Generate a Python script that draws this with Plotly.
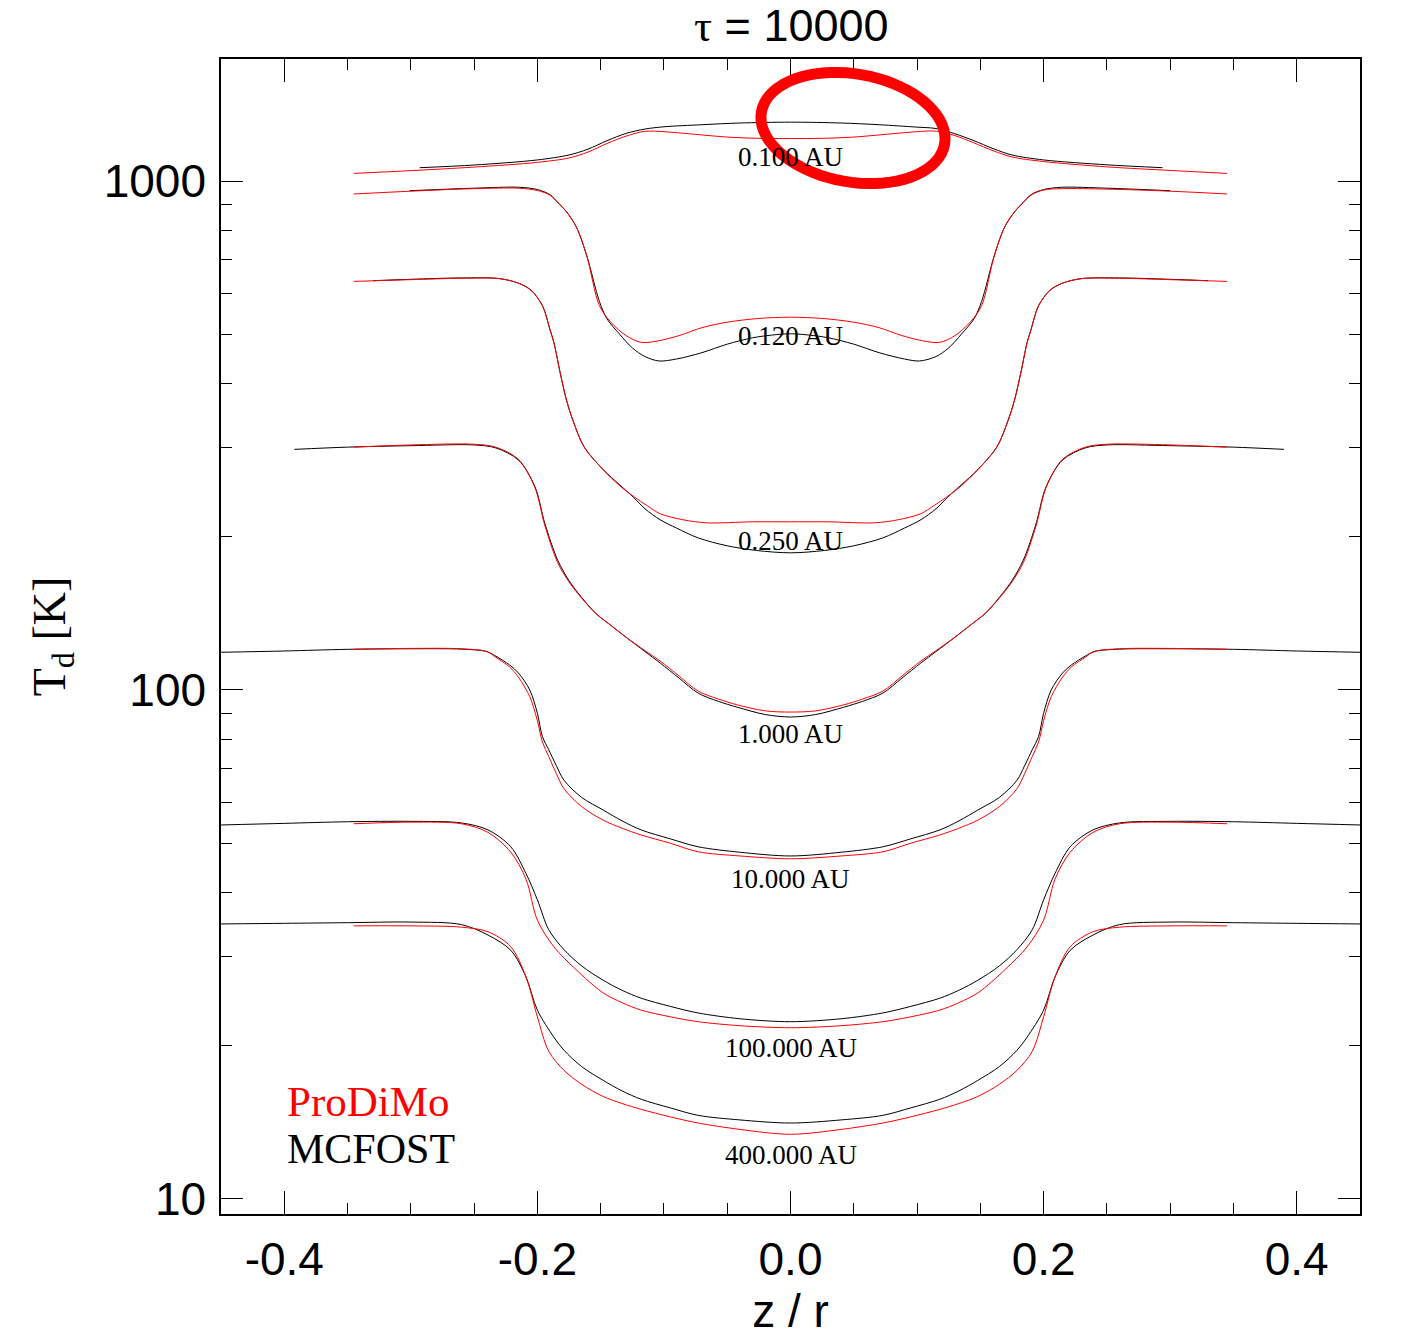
import numpy as np
import plotly.graph_objects as go

# ---------------- data ----------------
radii_labels = ["0.100 AU", "0.120 AU", "0.250 AU", "1.000 AU", "10.000 AU", "100.000 AU", "400.000 AU"]
label_temps = [1115, 496, 196, 81.9, 42.5, 19.8, 12.2]

# ProDiMo (red)
z_pro_010 = [-0.345, -0.30, -0.25, -0.20, -0.175, -0.16, -0.145, -0.13, -0.115, -0.10, -0.08, -0.05, -0.025, 0.0,
             0.025, 0.05, 0.08, 0.10, 0.115, 0.13, 0.145, 0.16, 0.175, 0.20, 0.25, 0.30, 0.345]
T_pro_010 = [1035, 1048, 1065, 1088, 1110, 1140, 1185, 1225, 1252, 1250, 1238, 1220, 1213, 1212,
             1213, 1220, 1238, 1250, 1253, 1228, 1188, 1147, 1115, 1092, 1066, 1049, 1035]

z_mcf_010 = [-0.293, -0.25, -0.20, -0.175, -0.16, -0.145, -0.13, -0.115, -0.10, -0.07, -0.04, 0.0,
             0.04, 0.07, 0.10, 0.115, 0.13, 0.145, 0.16, 0.175, 0.20, 0.25, 0.294]
T_mcf_010 = [1062, 1075, 1100, 1125, 1155, 1200, 1240, 1265, 1278, 1290, 1300, 1305,
             1300, 1290, 1276, 1268, 1238, 1200, 1158, 1125, 1100, 1076, 1062]

z_pro_012 = [-0.345, -0.30, -0.25, -0.215, -0.20, -0.19, -0.184, -0.177, -0.169, -0.161, -0.151, -0.142, -0.13,
             -0.118, -0.105, -0.088, -0.07, -0.05, -0.025, 0.0, 0.025, 0.05, 0.07, 0.088, 0.105, 0.118, 0.13,
             0.142, 0.151, 0.161, 0.169, 0.177, 0.184, 0.19, 0.20, 0.215, 0.25, 0.30, 0.345]
T_pro_012 = [943, 955, 966, 968, 958, 938, 908, 870, 810, 713, 569, 528, 497,
             482, 485, 497, 515, 528, 537, 540, 537, 528, 515, 497, 485, 482, 497,
             528, 569, 713, 810, 870, 908, 938, 960, 966, 964, 955, 943]

z_mcf_012 = [-0.301, -0.25, -0.214, -0.20, -0.19, -0.184, -0.177, -0.169, -0.161, -0.151, -0.145, -0.135,
             -0.125, -0.115, -0.104, -0.09, -0.07, -0.05, -0.03, -0.015, 0.0, 0.015, 0.03, 0.05, 0.07, 0.09,
             0.102, 0.115, 0.125, 0.135, 0.145, 0.151, 0.161, 0.169, 0.177, 0.184, 0.19, 0.20, 0.214, 0.25, 0.300]
T_mcf_012 = [957, 968, 972, 962, 940, 908, 870, 810, 713, 580, 536, 500,
             470, 452, 443, 447, 460, 478, 492, 498, 501, 498, 492, 478, 460, 447,
             443, 452, 470, 500, 536, 580, 713, 810, 870, 908, 940, 962, 972, 968, 957]

z_pro_025 = [-0.345, -0.30, -0.26, -0.23, -0.215, -0.205, -0.196, -0.19, -0.187, -0.182, -0.177, -0.172, -0.163,
             -0.148, -0.135, -0.124, -0.113, -0.103, -0.085, -0.066, -0.03, 0.0, 0.03, 0.066, 0.085, 0.103,
             0.113, 0.124, 0.135, 0.148, 0.163, 0.172, 0.177, 0.182, 0.187, 0.19, 0.196, 0.205, 0.215, 0.23,
             0.26, 0.30, 0.345]
T_pro_025 = [635, 640, 644, 643, 630, 610, 569, 510, 482, 420, 371, 339, 300,
             271, 252, 240, 230, 222, 216, 213, 214, 214, 214, 213, 216, 222,
             230, 240, 252, 271, 300, 339, 371, 420, 482, 510, 569, 610, 630, 643,
             644, 640, 635]

z_mcf_025 = [-0.33, -0.30, -0.26, -0.23, -0.215, -0.205, -0.196, -0.19, -0.187, -0.182, -0.177, -0.172, -0.163,
             -0.148, -0.135, -0.124, -0.115, -0.103, -0.09, -0.073, -0.05, -0.027, 0.0, 0.027, 0.05, 0.073, 0.09,
             0.103, 0.115, 0.124, 0.135, 0.148, 0.163, 0.172, 0.177, 0.182, 0.187, 0.19, 0.196, 0.205, 0.215, 0.23,
             0.26, 0.30, 0.33]
T_mcf_025 = [637, 641, 645, 643, 630, 610, 569, 510, 482, 420, 371, 339, 300,
             271, 253, 239, 227, 216, 208, 199, 192, 188, 186, 188, 192, 199, 208,
             216, 227, 239, 253, 271, 300, 339, 371, 420, 482, 510, 569, 610, 630, 643,
             645, 641, 637]

z_pro_1 = [-0.345, -0.30, -0.25, -0.233, -0.215, -0.202, -0.194, -0.184, -0.175, -0.165, -0.154, -0.142, -0.13,
           -0.115, -0.103, -0.088, -0.073, -0.057, -0.042, -0.02, 0.0, 0.02, 0.042, 0.057, 0.073, 0.088, 0.103,
           0.115, 0.13, 0.142, 0.154, 0.165, 0.175, 0.184, 0.194, 0.202, 0.215, 0.233, 0.25, 0.30, 0.345]
T_pro_1 = [300, 303, 304, 300, 284, 250, 210, 178, 163, 151.5, 141.5, 134, 127,
           119.5, 114, 106.5, 99.5, 96, 93.5, 91, 90.5, 91, 93.5, 96, 99.5, 106.5, 114,
           119.5, 127, 134, 141.5, 151.5, 163, 178, 210, 250, 284, 300, 304, 303, 300]

z_mcf_1 = [-0.392, -0.35, -0.30, -0.25, -0.233, -0.215, -0.202, -0.194, -0.184, -0.175, -0.165, -0.154, -0.142,
           -0.13, -0.115, -0.103, -0.088, -0.073, -0.057, -0.042, -0.02, 0.0, 0.02, 0.042, 0.057, 0.073, 0.088,
           0.103, 0.115, 0.13, 0.142, 0.154, 0.165, 0.175, 0.184, 0.194, 0.202, 0.215, 0.233, 0.25, 0.30,
           0.35, 0.39]
T_mcf_1 = [297, 300, 302, 303, 299, 283, 251, 212, 180, 164, 152, 141.5, 134,
           127, 119, 113, 105.5, 98.6, 95, 92.5, 89.5, 88.5, 89.5, 92.5, 95, 98.6, 105.5,
           113, 119, 127, 134, 141.5, 152, 164, 180, 212, 251, 283, 299, 303, 302,
           300, 297]

z_pro_10 = [-0.345, -0.30, -0.26, -0.24, -0.233, -0.222, -0.215, -0.206, -0.20, -0.196, -0.191, -0.185, -0.179,
            -0.165, -0.148, -0.133, -0.118, -0.095, -0.073, -0.04, 0.0, 0.04, 0.073, 0.095, 0.118, 0.133, 0.148,
            0.165, 0.179, 0.185, 0.191, 0.196, 0.20, 0.206, 0.215, 0.222, 0.233, 0.24, 0.26, 0.30, 0.345]
T_pro_10 = [120.2, 120.7, 120.5, 119, 116, 111, 106, 97, 87, 79, 74, 68.5, 64,
            59, 55.5, 53.5, 51.9, 50, 48.1, 47.2, 46.6, 47.2, 48.1, 50, 51.9, 53.5, 55.5,
            59, 64, 68.5, 74, 79, 87, 97, 106, 111, 116, 119, 120.5, 120.7, 120.2]

z_mcf_10 = [-0.45, -0.40, -0.35, -0.30, -0.26, -0.24, -0.233, -0.222, -0.215, -0.206, -0.20, -0.196, -0.191,
            -0.185, -0.179, -0.165, -0.148, -0.133, -0.118, -0.095, -0.073, -0.04, 0.0, 0.04, 0.073, 0.095,
            0.118, 0.133, 0.148, 0.165, 0.179, 0.185, 0.191, 0.196, 0.20, 0.206, 0.215, 0.222, 0.233, 0.24,
            0.26, 0.30, 0.35, 0.40, 0.45]
T_mcf_10 = [118.6, 119.3, 120.2, 120.5, 120.3, 119, 116.6, 112, 108, 100, 90, 81, 76.3,
            71, 66.5, 61.5, 58.1, 55.3, 53.1, 51, 49.2, 48, 47.2, 48, 49.2, 51,
            53.1, 55.3, 58.1, 61.5, 66.5, 71, 76.3, 81, 90, 100, 108, 112, 116.6, 119,
            120.3, 120.5, 120.2, 119.3, 118.6]

z_pro_100 = [-0.345, -0.30, -0.26, -0.239, -0.221, -0.209, -0.20, -0.187, -0.17, -0.148, -0.133, -0.118, -0.095,
             -0.073, -0.04, 0.0, 0.04, 0.073, 0.095, 0.118, 0.133, 0.148, 0.17, 0.187, 0.20, 0.209, 0.221,
             0.239, 0.26, 0.30, 0.345]
T_pro_100 = [54.6, 55.0, 54.6, 52.5, 48.0, 42.5, 35.3, 31.3, 28.3, 25.4, 24.3, 23.5, 22.8,
             22.3, 21.9, 21.7, 21.9, 22.3, 22.8, 23.5, 24.3, 25.4, 28.3, 31.3, 35.3, 42.5, 48.0,
             52.5, 54.6, 55.0, 54.6]

z_mcf_100 = [-0.45, -0.40, -0.35, -0.30, -0.26, -0.239, -0.221, -0.209, -0.20, -0.191, -0.179, -0.165, -0.148,
             -0.133, -0.118, -0.095, -0.073, -0.04, 0.0, 0.04, 0.073, 0.095, 0.118, 0.133, 0.148, 0.165,
             0.179, 0.191, 0.20, 0.209, 0.221, 0.239, 0.26, 0.30, 0.35, 0.40, 0.45]
T_mcf_100 = [54.3, 54.7, 55.1, 55.2, 54.8, 53.1, 49.2, 43.6, 38.7, 33.8, 30.9, 28.7, 26.9,
             25.7, 24.8, 23.9, 23.2, 22.6, 22.3, 22.6, 23.2, 23.9, 24.8, 25.7, 26.9, 28.7,
             30.9, 33.8, 38.7, 43.6, 49.2, 53.1, 54.8, 55.2, 55.1, 54.7, 54.3]

z_pro_400 = [-0.345, -0.30, -0.26, -0.239, -0.221, -0.209, -0.20, -0.191, -0.179, -0.165, -0.148, -0.133, -0.118,
             -0.095, -0.073, -0.04, 0.0, 0.04, 0.073, 0.095, 0.118, 0.133, 0.148, 0.165, 0.179, 0.191, 0.20,
             0.209, 0.221, 0.239, 0.26, 0.30, 0.345]
T_pro_400 = [34.4, 34.4, 34.2, 33.5, 31.3, 27.3, 22.8, 19.5, 17.9, 16.8, 15.9, 15.4, 15.0,
             14.5, 14.1, 13.7, 13.4, 13.7, 14.1, 14.5, 15.0, 15.4, 15.9, 16.8, 17.9, 19.5, 22.8,
             27.3, 31.3, 33.5, 34.2, 34.4, 34.4]

z_mcf_400 = [-0.45, -0.40, -0.35, -0.30, -0.26, -0.239, -0.221, -0.209, -0.20, -0.187, -0.179, -0.165, -0.148,
             -0.133, -0.118, -0.095, -0.073, -0.04, 0.0, 0.04, 0.073, 0.095, 0.118, 0.133, 0.148, 0.165,
             0.179, 0.187, 0.20, 0.209, 0.221, 0.239, 0.26, 0.30, 0.35, 0.40, 0.45]
T_mcf_400 = [34.7, 34.8, 34.9, 35.0, 34.6, 33.0, 30.8, 27.3, 23.5, 20.8, 19.6, 18.2, 17.1,
             16.3, 15.7, 15.1, 14.6, 14.3, 14.1, 14.3, 14.6, 15.1, 15.7, 16.3, 17.1, 18.2,
             19.6, 20.8, 23.5, 27.3, 30.8, 33.0, 34.6, 35.0, 34.9, 34.8, 34.7]

prodimo = [(z_pro_010, T_pro_010), (z_pro_012, T_pro_012), (z_pro_025, T_pro_025), (z_pro_1, T_pro_1),
           (z_pro_10, T_pro_10), (z_pro_100, T_pro_100), (z_pro_400, T_pro_400)]
mcfost = [(z_mcf_010, T_mcf_010), (z_mcf_012, T_mcf_012), (z_mcf_025, T_mcf_025), (z_mcf_1, T_mcf_1),
          (z_mcf_10, T_mcf_10), (z_mcf_100, T_mcf_100), (z_mcf_400, T_mcf_400)]

x_tickvals = [-0.4, -0.2, 0.0, 0.2, 0.4]
x_ticktext = ["-0.4", "-0.2", "0.0", "0.2", "0.4"]
y_tickvals = [10, 100, 1000]
y_ticktext = ["10", "100", "1000"]
y_minor = [m * 10 ** e for e in (1, 2) for m in range(2, 10)]

# ---------------- figure ----------------
fig = go.Figure()
for (z, T) in mcfost:
    fig.add_trace(go.Scatter(x=z, y=T, mode="lines", line=dict(color="black", width=1, shape="spline", smoothing=0.9),
                             showlegend=False, hoverinfo="skip"))
for (z, T) in prodimo:
    fig.add_trace(go.Scatter(x=z, y=T, mode="lines", line=dict(color="#ff0000", width=1, shape="spline", smoothing=0.9),
                             showlegend=False, hoverinfo="skip"))

sans = "Liberation Sans, Arial, sans-serif"
serif = "Liberation Serif, Times New Roman, serif"

for lab, t in zip(radii_labels, label_temps):
    fig.add_annotation(x=0.0, y=np.log10(t), xref="x", yref="y", text=lab, showarrow=False,
                       font=dict(family=serif, size=27, color="black"), xanchor="center", yanchor="middle")

fig.add_annotation(x=0.0562, y=0.0978, xref="paper", yref="paper", text="ProDiMo", showarrow=False,
                   font=dict(family=serif, size=43, color="#ff0000"), xanchor="left", yanchor="middle")
fig.add_annotation(x=0.0562, y=0.0563, xref="paper", yref="paper", text="MCFOST", showarrow=False,
                   font=dict(family=serif, size=42, color="black"), xanchor="left", yanchor="middle")

# hand-drawn red ellipse highlight (pixel geometry -> paper coords)
L, R, Tp, B = 221, 1360, 59, 1214
cx, cy, a, b, ang = 853, 128, 93, 54, np.deg2rad(10)
tt = np.linspace(0, 2 * np.pi, 73)
px = cx + a * np.cos(tt) * np.cos(ang) - b * np.sin(tt) * np.sin(ang)
py = cy + a * np.cos(tt) * np.sin(ang) + b * np.sin(tt) * np.cos(ang)
xp = (px - L) / (R - L)
yp = (B - py) / (B - Tp)
path = "M " + " L ".join(f"{x:.5f},{y:.5f}" for x, y in zip(xp, yp)) + " Z"
fig.add_shape(type="path", path=path, xref="paper", yref="paper", line=dict(color="#ff0000", width=11))

# title as annotation for exact placement
fig.add_annotation(x=(791 - 221) / 1139, y=(1214 - 25) / 1155, xref="paper", yref="paper",
                   xanchor="center", yanchor="middle",
                   text="<span style='font-family:Liberation Serif'>τ</span> = 10000", showarrow=False,
                   font=dict(family=sans, size=45, color="black"))
fig.update_layout(
    width=1417, height=1337,
    margin=dict(l=221, r=57, t=59, b=123),
    paper_bgcolor="white", plot_bgcolor="white",
)

fig.update_xaxes(
    range=[-0.45, 0.45], tickvals=x_tickvals, ticktext=x_ticktext, automargin=False,
    ticks="inside", ticklen=23, tickwidth=1, tickcolor="black",
    minor=dict(dtick=0.05, tick0=0, ticks="inside", ticklen=11, tickwidth=1, tickcolor="black", showgrid=False),
    showline=True, linewidth=1.5, linecolor="black", mirror="ticks", showgrid=False, zeroline=False,
    tickfont=dict(family=sans, size=46, color="black"), ticklabelstandoff=4,
    title=dict(text="z / r", font=dict(family=sans, size=46, color="black"), standoff=2),
)
fig.update_yaxes(
    type="log", range=[0.9705, 3.2397], tickvals=y_tickvals, ticktext=y_ticktext, automargin=False,
    ticks="inside", ticklen=22, tickwidth=1, tickcolor="black",
    minor=dict(tickvals=y_minor, ticks="inside", ticklen=11, tickwidth=1, tickcolor="black", showgrid=False),
    showline=True, linewidth=1.5, linecolor="black", mirror="ticks", showgrid=False, zeroline=False,
    tickfont=dict(family=sans, size=46, color="black"), ticklabelstandoff=4,
    title=dict(text="T<sub>d</sub> [K]", font=dict(family=serif, size=46, color="black"), standoff=24),
)

fig.write_html("out.html")
